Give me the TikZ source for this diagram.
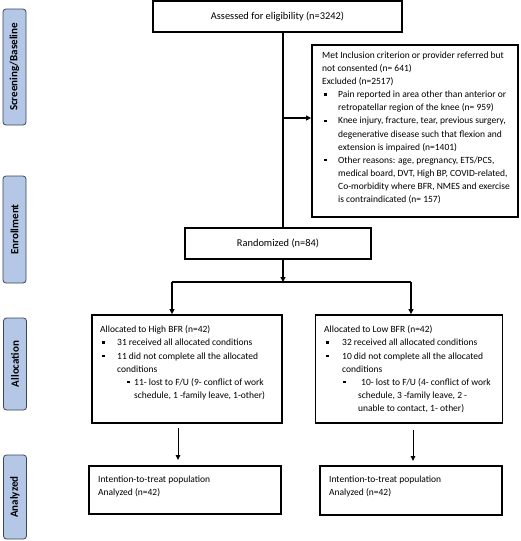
\documentclass[tikz,border=0pt]{standalone}
\usepackage{fontspec}
\setmainfont{Carlito}
\usetikzlibrary{arrows.meta,positioning}
\definecolor{sidefill}{HTML}{B4C7E7}
\definecolor{sideline}{HTML}{3C4654}
\newcommand{\sqb}{\raisebox{0.22em}{\rule{2.4pt}{2.4pt}}}
\newcommand{\bl}[2]{\makebox[#2pt][l]{\hspace*{#1pt}\sqb}}
\newcommand{\ind}[1]{\makebox[#1pt]{}}
\begin{document}
\begin{tikzpicture}[x=1pt,y=-1pt,
  box/.style={draw,line width=1.8pt,inner sep=0pt},
  bigtext/.style={font=\fontsize{10.4}{13}\selectfont},
  boxtext/.style={font=\fontsize{9.5}{13.1}\selectfont,align=left,inner sep=0pt,anchor=north west},
  side/.style={draw=sideline,fill=sidefill,line width=0.8pt,rounded corners=3pt,rotate=90,
    minimum height=23pt,inner sep=0pt,font=\fontsize{11}{13}\selectfont\bfseries},
  conn/.style={line width=1.4pt},
  arr/.style={line width=1.4pt,-{Triangle[width=5pt,length=5pt]}},
  thinarr/.style={line width=1pt,-{Triangle[width=4.5pt,length=5pt]}}]
\useasboundingbox (0,0) rectangle (520,541);

% side labels
\node[side,minimum width=116pt] (sScreen) at (14.5,67) {Screening/Baseline};
\node[side,minimum width=107pt] (sEnroll) at (14.5,229.5) {Enrollment};
\node[side,minimum width=92pt] (sAlloc) at (15,364) {Allocation};
\node[side,minimum width=84pt] (sAnal) at (15,497) {Analyzed};

% main boxes
\node[box,bigtext,minimum width=249pt,minimum height=31pt] (assessed) at (277.5,16.5) {Assessed for eligibility (n=3242)};
\node[box,minimum width=206pt,minimum height=172pt] (excl) at (415,131) {};
\node[box,bigtext,minimum width=186pt,minimum height=31pt] (rand) at (278,243.5) {Randomized (n=84)};
\node[box,minimum width=190pt,minimum height=108pt] (allocL) at (187,369) {};
\node[box,minimum width=187pt,minimum height=108pt] (allocR) at (409,369) {};
\node[box,minimum width=192pt,minimum height=48pt] (analL) at (185,490) {};
\node[box,minimum width=182pt,minimum height=49pt] (analR) at (411,490.5) {};

% box texts
\node[boxtext] (exclText) at (322,51.7) {%
Met Inclusion criterion or provider referred but\\
not consented (n= 641)\\
Excluded (n=2517)\\
\bl{2}{16}Pain reported in area other than anterior or\\
\ind{16}retropatellar region of the knee (n= 959)\\
\bl{2}{16}Knee injury, fracture, tear, previous surgery,\\
\ind{16}degenerative disease such that flexion and\\
\ind{16}extension is impaired (n=1401)\\
\bl{2}{16}Other reasons: age, pregnancy, ETS/PCS,\\
\ind{16}medical board, DVT, High BP, COVID-related,\\
\ind{16}Co-morbidity where BFR, NMES and exercise\\
\ind{16}is contraindicated (n= 157)};

\node[boxtext] (allocLText) at (100,325.7) {%
Allocated to High BFR (n=42)\\
\bl{2}{17}31 received all allocated conditions\\
\bl{2}{17}11 did not complete all the allocated\\
\ind{17}conditions\\
\bl{27}{34}11- lost to F/U (9- conflict of work\\
\ind{34}schedule, 1 -family leave, 1-other)};

\node[boxtext] (allocRText) at (324,325.7) {%
Allocated to Low BFR (n=42)\\
\bl{2}{18}32 received all allocated conditions\\
\bl{2}{18}10 did not complete all the allocated\\
\ind{18}conditions\\
\bl{19}{37}10- lost to F/U (4- conflict of work\\
\ind{34}schedule, 3 -family leave, 2 -\\
\ind{34}unable to contact, 1- other)};

\node[boxtext] (analLText) at (98,475.7) {Intention-to-treat population\\Analyzed (n=42)};
\node[boxtext] (analRText) at (329,475.7) {Intention-to-treat population\\Analyzed (n=42)};

% connector coordinates
\coordinate (trunk) at (283,0);
\coordinate (exclpt) at (283,118);
\coordinate (split) at (283,282);
\coordinate (splitL) at (172,282);
\coordinate (splitR) at (411,282);
\coordinate (aLs) at (178,428);
\coordinate (aLe) at (178,460);
\coordinate (aRs) at (413,430);
\coordinate (aRe) at (413,461);

% connectors
\draw[conn] (assessed.south -| trunk) -- (rand.north -| trunk);
\draw[arr] (exclpt) -- (exclpt -| excl.west);
\draw[arr] (rand.south -| trunk) -- (split);
\draw[conn] (splitL) -- (splitR);
\draw[arr] (splitL) -- (splitL |- allocL.north);
\draw[arr] (splitR) -- (splitR |- allocR.north);
\draw[thinarr] (aLs) -- (aLe);
\draw[thinarr] (aRs) -- (aRe);
\end{tikzpicture}
\end{document}
